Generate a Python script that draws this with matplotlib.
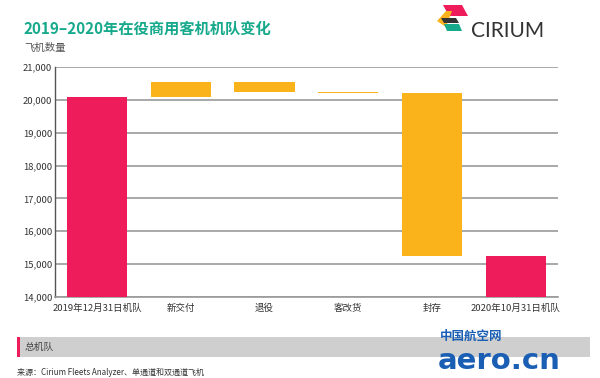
import matplotlib
matplotlib.use("Agg")
import matplotlib.pyplot as plt
from matplotlib.patches import Rectangle, Polygon
from matplotlib.transforms import Affine2D
import numpy as np

plt.rcParams['font.family'] = ['Noto Sans CJK SC', 'DejaVu Sans']

categories = ["2019年12月31日机队", "新交付", "退役", "客改货", "封存", "2020年10月31日机队"]
start_fleet = 20100
changes = [430, -280, -30, -4970]
end_fleet = 15250
yticks = [14000, 15000, 16000, 17000, 18000, 19000, 20000, 21000]

PINK = "#EE1C5B"
ORANGE = "#FBB31C"
TEAL = "#17A98B"

W, H = 600, 378
fig = plt.figure(figsize=(6, 3.78), dpi=100)
ax = fig.add_axes([0.0917, 0.2143, 0.838, 0.6085])

x = np.arange(len(categories))
w = 0.72
ax.bar(x[0], start_fleet - 14000, bottom=14000, width=w, color=PINK, zorder=3)
ax.bar(x[-1], end_fleet - 14000, bottom=14000, width=w, color=PINK, zorder=3)
level = start_fleet
for i, c in enumerate(changes):
    lo = min(level, level + c)
    ax.bar(x[i + 1], abs(c), bottom=lo, width=w, color=ORANGE, zorder=3)
    level += c

ax.set_xlim(-0.5, len(categories) - 0.5)
ax.set_ylim(14000, 21000)
ax.set_yticks(yticks)
ax.set_yticklabels([f"{v:,}" for v in yticks], fontsize=6.8, color="#333333")
ax.set_xticks(x)
ax.set_xticklabels([])
for xi, lab in zip(x, categories):
    ax.annotate(lab, xy=(xi, 0), xycoords=('data', 'axes fraction'),
                xytext=(0, -10), textcoords='offset points', ha='center',
                va='baseline', fontsize=6.8, color="#333333")
ax.tick_params(axis='both', length=0, pad=2)
ax.grid(axis='y', color="#9a9a9a", linewidth=1.2, zorder=0)
ax.set_axisbelow(True)
for s in ["top", "right"]:
    ax.spines[s].set_visible(False)
ax.spines["left"].set_color("#555555")
ax.spines["left"].set_linewidth(1.0)
ax.spines["bottom"].set_color("#9a9a9a")
ax.spines["bottom"].set_linewidth(1.2)

# titles
fig.text(0.04, 0.925, "2019–2020年在役商用客机机队变化", fontsize=11, fontweight='bold',
         color=TEAL, ha='left', va='center')
fig.text(0.04, 0.873, "飞机数量", fontsize=7.5, color="#555555", ha='left', va='center')

# logo (pixel coordinates, y from top)
px = Affine2D().scale(1.0 / W, -1.0 / H).translate(0, 1) + fig.transFigure
polys = [
    ([(443, 5), (462, 5), (468, 16), (449, 16)], PINK),
    ([(437, 21), (446, 11), (452, 11), (446, 27)], ORANGE),
    ([(441, 18), (456, 18), (459, 23), (444, 23)], "#333333"),
    ([(444, 24), (459, 24), (462, 31), (447, 31)], TEAL),
]
for pts, col in polys:
    fig.patches.append(Polygon(pts, closed=True, transform=px, facecolor=col,
                               edgecolor='none'))
fig.text(471 / W, 1 - 31 / H, "CIRIUM", fontsize=15, color="#333333", ha='left',
         va='center', family=['Lato', 'DejaVu Sans'])

# bottom band
fig.patches.append(Rectangle((17 / W, 1 - 357 / H), 573 / W, 20 / H, transform=fig.transFigure,
                             facecolor="#cfcfcf", edgecolor='none'))
fig.patches.append(Rectangle((17 / W, 1 - 357 / H), 2.5 / W, 20 / H, transform=fig.transFigure,
                             facecolor=PINK, edgecolor='none'))
fig.text(25 / W, 1 - 347 / H, "总机队", fontsize=7, color="#444444", ha='left', va='center')
fig.text(17 / W, 1 - 372 / H, "来源：Cirium Fleets Analyzer、单通道和双通道飞机", fontsize=5.8,
         color="#333333", ha='left', va='center')

# watermark
fig.text(440 / W, 1 - 336 / H, "中国航空网", fontsize=9, fontweight='bold', color="#1a5fb4",
         ha='left', va='center')
fig.text(438 / W, 1 - 361 / H, "aero.cn", fontsize=21, fontweight='bold', color="#1a5fb4",
         ha='left', va='center', family=['DejaVu Sans'])

fig.savefig("out.png", dpi=100)
